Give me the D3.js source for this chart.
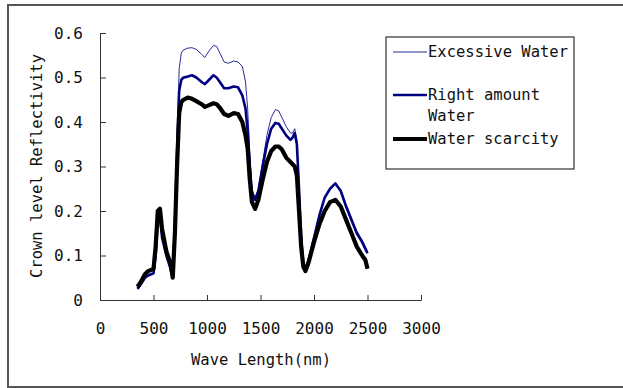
<!DOCTYPE html>
<html><head><meta charset="utf-8">
<script src="https://cdn.jsdelivr.net/npm/d3@7"></script>
<style>body{margin:0;background:#fff}svg{display:block}text{font-family:"DejaVu Sans Mono",monospace;fill:#111}</style>
</head><body><svg id="c" width="623" height="388"></svg>
<script>
const wavelengths=[350,380,420,450,500,520,540,560,580,620,660,680,700,720,740,760,780,820,860,900,950,980,1020,1060,1090,1120,1160,1200,1250,1290,1330,1360,1380,1400,1420,1450,1480,1520,1560,1600,1640,1670,1700,1740,1780,1800,1820,1840,1860,1880,1900,1920,1950,2000,2050,2100,2150,2200,2250,2300,2350,2400,2450,2480,2500];
const excessive=[.025,.035,.05,.055,.06,.1,.185,.195,.145,.1,.07,.05,.17,.36,.52,.555,.562,.566,.567,.563,.552,.545,.56,.572,.57,.555,.535,.532,.537,.535,.525,.49,.43,.33,.25,.23,.25,.31,.37,.41,.428,.425,.41,.39,.375,.375,.385,.36,.26,.14,.08,.07,.09,.14,.19,.23,.252,.262,.248,.215,.185,.155,.135,.12,.11];
const rightAmount=[.025,.035,.05,.055,.06,.1,.18,.19,.14,.1,.07,.05,.16,.33,.47,.495,.5,.502,.505,.5,.49,.485,.495,.505,.5,.49,.476,.476,.48,.478,.46,.43,.38,.3,.24,.225,.245,.3,.35,.385,.398,.396,.385,.37,.36,.365,.375,.35,.25,.14,.08,.07,.09,.14,.19,.23,.25,.262,.245,.21,.18,.15,.13,.115,.105];
const scarcity=[.03,.04,.058,.065,.07,.12,.2,.205,.16,.11,.08,.05,.15,.3,.42,.445,.45,.455,.452,.447,.44,.434,.438,.442,.44,.432,.418,.414,.42,.418,.4,.37,.34,.27,.22,.205,.225,.27,.31,.335,.345,.345,.338,.32,.31,.305,.3,.28,.2,.12,.075,.065,.085,.13,.17,.2,.22,.225,.21,.18,.15,.12,.1,.09,.07];
const xTicks=[0,500,1000,1500,2000,2500,3000];
const yTicks=[0,0.1,0.2,0.3,0.4,0.5,0.6];
const seriesNames=["Excessive Water","Right amount Water","Water scarcity"];

const svg=d3.select("#c");
svg.append("rect").attr("x",8).attr("y",5).attr("width",640).attr("height",382).attr("fill","#fff").attr("stroke","#555").attr("stroke-width",2);

const x=d3.scaleLinear().domain([0,3000]).range([100,421]);
const y=d3.scaleLinear().domain([0,0.6]).range([300,33]);

const gx=svg.append("g").attr("transform","translate(0,300)")
 .call(d3.axisBottom(x).tickValues(xTicks).tickSize(-5).tickPadding(23).tickFormat(d3.format("d")).tickSizeOuter(0));
const gy=svg.append("g").attr("transform","translate(100,0)")
 .call(d3.axisLeft(y).tickValues(yTicks).tickSize(-6).tickPadding(17).tickFormat(d=>d===0?"0":d3.format(".1f")(d)).tickSizeOuter(0));
[gx,gy].forEach(g=>{g.select(".domain").attr("stroke","#333");g.selectAll(".tick line").attr("stroke","#333");
 g.selectAll("text").style("font-family","'DejaVu Sans Mono',monospace").attr("font-size",16).attr("fill","#111");});
gx.selectAll("text").attr("dy","0.71em");

const line=d3.line().x((d,i)=>x(wavelengths[i])).y(d=>y(d));
const styles=[{c:"#2a2a9a",w:1},{c:"#000080",w:2.6},{c:"#000",w:4.2}];
[excessive,rightAmount,scarcity].forEach((s,i)=>{
 svg.append("path").datum(s).attr("d",line).attr("fill","none").attr("stroke",styles[i].c).attr("stroke-width",styles[i].w).attr("stroke-linejoin","round");
});

svg.append("text").attr("x",261).attr("y",365).attr("text-anchor","middle").attr("font-size",15.5).text("Wave Length(nm)");
svg.append("text").attr("transform","translate(42,166) rotate(-90)").attr("text-anchor","middle").attr("font-size",15.5).text("Crown level Reflectivity");

const lg=svg.append("g");
lg.append("rect").attr("x",386).attr("y",37).attr("width",188).attr("height",132).attr("fill","#fff").attr("stroke","#333").attr("stroke-width",1.2);
const ly=[52,95,139];
ly.forEach((yy,i)=>{
 lg.append("line").attr("x1",393).attr("x2",427).attr("y1",yy).attr("y2",yy).attr("stroke",styles[i].c).attr("stroke-width",styles[i].w);
});
lg.append("text").attr("x",428).attr("y",57).attr("font-size",15.5).text("Excessive Water");
lg.append("text").attr("x",428).attr("y",100).attr("font-size",15.5).text("Right amount");
lg.append("text").attr("x",428).attr("y",121).attr("font-size",15.5).text("Water");
lg.append("text").attr("x",428).attr("y",144).attr("font-size",15.5).text("Water scarcity");
</script></body></html>
